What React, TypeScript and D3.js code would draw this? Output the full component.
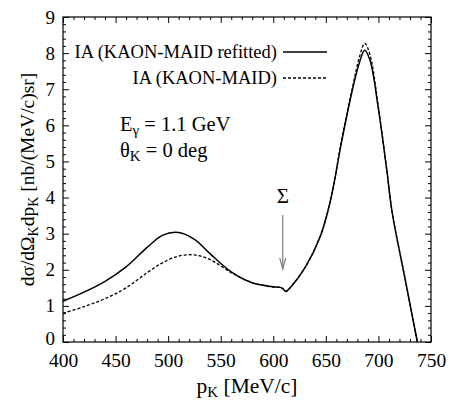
import React, { useEffect, useRef } from 'react';
import * as d3 from 'd3';

// kaon momentum grid [MeV/c]
const pK = [400, 420, 440, 460, 480, 495, 510, 525, 540, 560, 580, 600, 608, 612, 616, 630, 645, 655, 665, 675, 682, 687, 692, 700, 708, 713, 725, 737];
// IA (KAON-MAID refitted)
const refitted = [1.13, 1.38, 1.68, 2.08, 2.62, 2.96, 3.03, 2.84, 2.44, 1.94, 1.64, 1.53, 1.5, 1.4, 1.5, 2.05, 2.95, 4.0, 5.55, 6.95, 7.75, 8.08, 7.8, 6.45, 4.75, 3.6, 1.8, 0];
// IA (KAON-MAID)
const original = [0.8, 0.98, 1.2, 1.5, 1.92, 2.2, 2.38, 2.41, 2.28, 1.92, 1.64, 1.52, 1.5, 1.4, 1.5, 2.05, 2.95, 4.0, 5.6, 7.0, 7.9, 8.27, 7.95, 6.5, 4.75, 3.6, 1.8, 0];

const xTicks = [400, 450, 500, 550, 600, 650, 700, 750];
const yTicks = [0, 1, 2, 3, 4, 5, 6, 7, 8, 9];

const W = 450;
const H = 406;
const FONT = "'Liberation Serif', 'Times New Roman', Tinos, 'DejaVu Serif', serif";

export default function App() {
  const ref = useRef<SVGSVGElement>(null);

  useEffect(() => {
    const svg = d3.select(ref.current);
    svg.selectAll('*').remove();

    const marginTop = 17;
    const marginRight = 19;
    const marginBottom = 64;
    const marginLeft = 63;

    const x = d3.scaleLinear().domain([400, 750]).range([marginLeft, W - marginRight]);
    const y = d3.scaleLinear().domain([0, 9]).range([H - marginBottom, marginTop]);

    const xMinor = d3.range(400, 751, 10).filter(v => v % 50 !== 0);
    const yMinor = d3.range(0, 45).map(i => i * 0.2).filter((v, i) => i % 5 !== 0);

    const tickAxis = (g, axis) => g.call(axis).call(s => s.select('.domain').remove());

    // ticks, all four sides, pointing inward
    const xAxisG = svg.append('g').attr('transform', `translate(0,${y(0)})`)
      .call(g => tickAxis(g, d3.axisBottom(x).tickValues(xTicks).tickSize(-6).tickPadding(11).tickFormat(d3.format('d'))));
    svg.append('g').attr('transform', `translate(0,${y(0)})`)
      .call(g => tickAxis(g, d3.axisBottom(x).tickValues(xMinor).tickSize(-3).tickFormat(() => '')));
    svg.append('g').attr('transform', `translate(0,${y(9)})`)
      .call(g => tickAxis(g, d3.axisTop(x).tickValues(xTicks).tickSize(-6).tickFormat(() => '')));
    svg.append('g').attr('transform', `translate(0,${y(9)})`)
      .call(g => tickAxis(g, d3.axisTop(x).tickValues(xMinor).tickSize(-3).tickFormat(() => '')));
    const yAxisG = svg.append('g').attr('transform', `translate(${x(400)},0)`)
      .call(g => tickAxis(g, d3.axisLeft(y).tickValues(yTicks).tickSize(-6).tickPadding(8).tickFormat(d3.format('d'))));
    svg.append('g').attr('transform', `translate(${x(400)},0)`)
      .call(g => tickAxis(g, d3.axisLeft(y).tickValues(yMinor).tickSize(-3).tickFormat(() => '')));
    svg.append('g').attr('transform', `translate(${x(750)},0)`)
      .call(g => tickAxis(g, d3.axisRight(y).tickValues(yTicks).tickSize(-6).tickFormat(() => '')));
    svg.append('g').attr('transform', `translate(${x(750)},0)`)
      .call(g => tickAxis(g, d3.axisRight(y).tickValues(yMinor).tickSize(-3).tickFormat(() => '')));

    svg.selectAll('g').attr('font-family', null);
    svg.selectAll('.tick text').style('font-family', FONT).attr('fill', '#000');
    xAxisG.selectAll('.tick text').style('font-size', '19.5px');
    yAxisG.selectAll('.tick text').style('font-size', '19px');
    // keep the "0" clear of the "400" beneath it
    yAxisG.selectAll('.tick text').filter(d => d === 0).attr('dy', '0.15em');
    svg.selectAll('.tick line').attr('stroke', '#000');

    // frame
    svg.append('rect')
      .attr('x', x(400)).attr('y', y(9))
      .attr('width', x(750) - x(400)).attr('height', y(0) - y(9))
      .attr('fill', 'none').attr('stroke', '#000').attr('stroke-width', 1.2);

    const line = d3.line<number>()
      .x((d, i) => x(pK[i]))
      .y(d => y(d))
      .curve(d3.curveCatmullRom.alpha(0.5));

    svg.append('path').datum(original)
      .attr('d', line)
      .attr('fill', 'none').attr('stroke', '#000')
      .attr('stroke-width', 1.3).attr('stroke-dasharray', '3,2');

    svg.append('path').datum(refitted)
      .attr('d', line)
      .attr('fill', 'none').attr('stroke', '#000')
      .attr('stroke-width', 1.5);

    const txt = (sel, size) => sel.style('font-family', FONT).style('font-size', `${size}px`);

    // legend
    const legend = [
      { label: 'IA (KAON-MAID refitted)', dash: null, ty: 58, ly: 52 },
      { label: 'IA (KAON-MAID)', dash: '3,2', ty: 84, ly: 78 },
    ];
    legend.forEach(l => {
      svg.append('text')
        .attr('x', 277).attr('y', l.ty)
        .attr('text-anchor', 'end')
        .call(s => txt(s, 18.5))
        .text(l.label);
      svg.append('line')
        .attr('x1', 283).attr('x2', 327).attr('y1', l.ly).attr('y2', l.ly)
        .attr('stroke', '#000').attr('stroke-width', l.dash ? 1.3 : 1.5)
        .attr('stroke-dasharray', l.dash);
    });

    // kinematics note
    const e = svg.append('text').attr('x', 120).attr('y', 131).call(s => txt(s, 20.5));
    e.append('tspan').text('E');
    e.append('tspan').attr('dy', 4).style('font-size', '15px').text('γ');
    e.append('tspan').attr('dy', -4).text(' = 1.1 GeV');

    const t = svg.append('text').attr('x', 120).attr('y', 157).call(s => txt(s, 20.5));
    t.append('tspan').text('θ');
    t.append('tspan').attr('dy', 4).style('font-size', '15px').text('K');
    t.append('tspan').attr('dy', -4).text(' = 0 deg');

    // Sigma threshold marker
    const sx = x(609);
    svg.append('text').attr('x', sx).attr('y', 203)
      .attr('text-anchor', 'middle')
      .call(s => txt(s, 21))
      .text('Σ');
    svg.append('line')
      .attr('x1', sx).attr('x2', sx).attr('y1', 215).attr('y2', 269)
      .attr('stroke', '#808080').attr('stroke-width', 1.2);
    svg.append('path')
      .attr('d', `M${sx - 3},${258} L${sx},${269} L${sx + 3},${258}`)
      .attr('fill', 'none').attr('stroke', '#808080').attr('stroke-width', 1.2);

    // axis titles
    const xl = svg.append('text')
      .attr('x', (x(400) + x(750)) / 2).attr('y', 393)
      .attr('text-anchor', 'middle')
      .call(s => txt(s, 21.5));
    xl.append('tspan').text('p');
    xl.append('tspan').attr('dy', 4).style('font-size', '15px').text('K');
    xl.append('tspan').attr('dy', -4).text(' [MeV/c]');

    const yl = svg.append('text')
      .attr('transform', `translate(34,${(y(0) + y(9)) / 2}) rotate(-90)`)
      .attr('text-anchor', 'middle')
      .call(s => txt(s, 19.5));
    yl.append('tspan').text('dσ/dΩ');
    yl.append('tspan').attr('dy', 4).style('font-size', '14px').text('K');
    yl.append('tspan').attr('dy', -4).text('dp');
    yl.append('tspan').attr('dy', 4).style('font-size', '14px').text('K');
    yl.append('tspan').attr('dy', -4).text(' [nb/(MeV/c)sr]');
  }, []);

  return (
    <svg
      ref={ref}
      width={W}
      height={H}
      viewBox={`0 0 ${W} ${H}`}
      style={{ position: 'absolute', left: 0, top: 0, background: '#fff' }}
    />
  );
}
